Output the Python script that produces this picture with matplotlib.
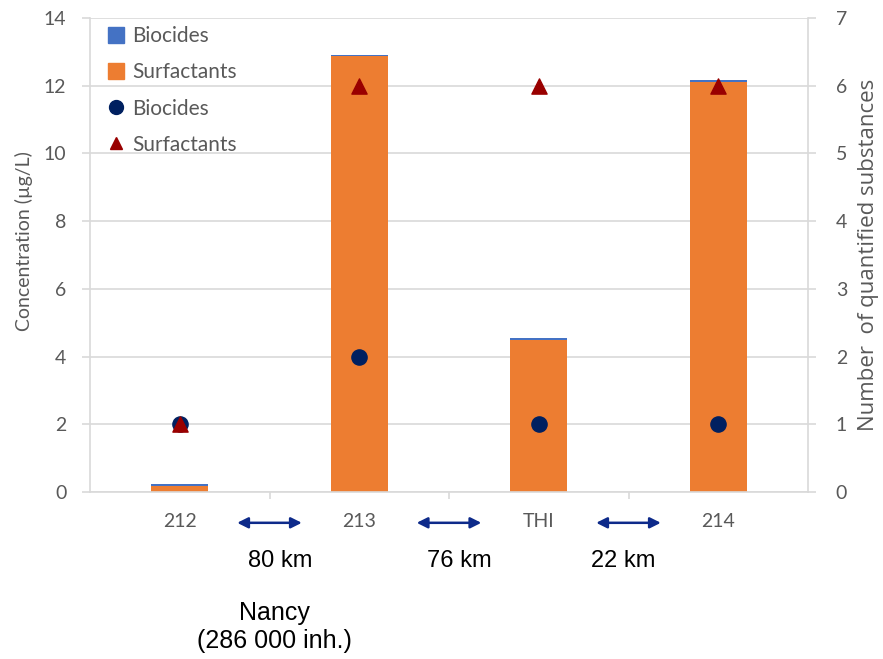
import matplotlib
matplotlib.use("Agg")
import matplotlib.pyplot as plt
import numpy as np
from matplotlib.lines import Line2D
from matplotlib.patches import Patch

sites = ["212", "213", "THI", "214"]
conc_surfactants = [0.18, 12.87, 4.50, 12.12]
conc_biocides = [0.07, 0.05, 0.05, 0.05]
n_biocides = [1, 2, 1, 1]
n_surfactants = [1, 6, 6, 6]
distances = ["80 km", "76 km", "22 km"]
city_label = "Nancy\n(286 000 inh.)"

BLUE = "#4472C4"
ORANGE = "#ED7D31"
NAVY = "#002060"
DARKRED = "#990000"
GRAY = "#595959"
GRID = "#D9D9D9"

plt.rcParams["font.family"] = ["Lato", "DejaVu Sans"]

fig = plt.figure(figsize=(8.83, 6.59), dpi=100)
ax = fig.add_axes([90 / 883, 167 / 659, 718 / 883, 474 / 659])
ax2 = ax.twinx()

x = np.arange(len(sites))
w = 0.315
ax.bar(x, conc_surfactants, w, color=ORANGE, zorder=2)
ax.bar(x, conc_biocides, w, bottom=conc_surfactants, color=BLUE, zorder=2)

ax2.scatter(x, n_biocides, marker="o", s=120, color=NAVY, zorder=3)
ax2.scatter(x, n_surfactants, marker="^", s=120, color=DARKRED, zorder=4)

ax.set_xlim(-0.5, len(sites) - 0.5)
ax.set_ylim(0, 14)
ax.set_yticks(range(0, 15, 2))
ax2.set_ylim(0, 7)
ax2.set_yticks(range(0, 8))
ax.yaxis.grid(True, color=GRID, lw=1.2, zorder=0)
ax.set_axisbelow(True)

for a in (ax, ax2):
    for s in a.spines.values():
        s.set_visible(False)
    a.tick_params(axis="y", length=6, width=1.2, color=GRID,
                  labelsize=14, labelcolor=GRAY)
ax.tick_params(axis="y", pad=11)
ax2.tick_params(axis="y", pad=14)
for a, side in ((ax, "left"), (ax, "bottom"), (ax2, "right")):
    a.spines[side].set_visible(True)
    a.spines[side].set_color(GRID)
    a.spines[side].set_linewidth(1.2)

ax.set_xticks(x)
ax.set_xticklabels(sites)
ax.tick_params(axis="x", length=0, labelsize=14, labelcolor=GRAY, pad=15)
ax.set_xticks(x[:-1] + 0.5, minor=True)
ax.tick_params(axis="x", which="minor", length=5, color=GRID, width=1.2)

ax.set_ylabel("Concentration (µg/L)", fontsize=14, color=GRAY, labelpad=8)
ax.yaxis.label.set_y(0.53)
ax2.set_ylabel("Number  of quantified substances", fontsize=16, color=GRAY,
               rotation=90, labelpad=8, family=["Open Sans", "DejaVu Sans"])

# arrows and distances between sites
for i, d in enumerate(distances):
    xm = i + 0.5
    ax.annotate("", xy=(xm - 0.18, -0.065), xytext=(xm + 0.18, -0.065),
                xycoords=("data", "axes fraction"), textcoords=("data", "axes fraction"),
                arrowprops=dict(arrowstyle="<|-|>", color="#0D2A8A", lw=1.8,
                                mutation_scale=16, shrinkA=0, shrinkB=0),
                annotation_clip=False)
ax.text(0.56, -0.145, distances[0], transform=ax.get_xaxis_transform(),
        ha="center", va="center", fontsize=17, family="Liberation Sans")
ax.text(1.56, -0.145, distances[1], transform=ax.get_xaxis_transform(),
        ha="center", va="center", fontsize=17, family="Liberation Sans")
ax.text(2.47, -0.145, distances[2], transform=ax.get_xaxis_transform(),
        ha="center", va="center", fontsize=17, family="Liberation Sans")
ax.text(0.53, -0.285, city_label, transform=ax.get_xaxis_transform(),
        ha="center", va="center", fontsize=18, family="Liberation Sans",
        linespacing=1.25)

handles = [Patch(color=BLUE), Patch(color=ORANGE),
           Line2D([], [], ls="", marker="o", color=NAVY, markersize=10),
           Line2D([], [], ls="", marker="^", color=DARKRED, markersize=9)]
labels = ["Biocides", "Surfactants", "Biocides", "Surfactants"]
leg = ax2.legend(handles, labels, loc="upper left", bbox_to_anchor=(0.01, 1.005),
                 frameon=False, fontsize=15, labelspacing=0.78,
                 handlelength=0.8, handleheight=0.8, handletextpad=0.4,
                 labelcolor=GRAY, borderaxespad=0.1)

fig.savefig("out.png", dpi=100)
